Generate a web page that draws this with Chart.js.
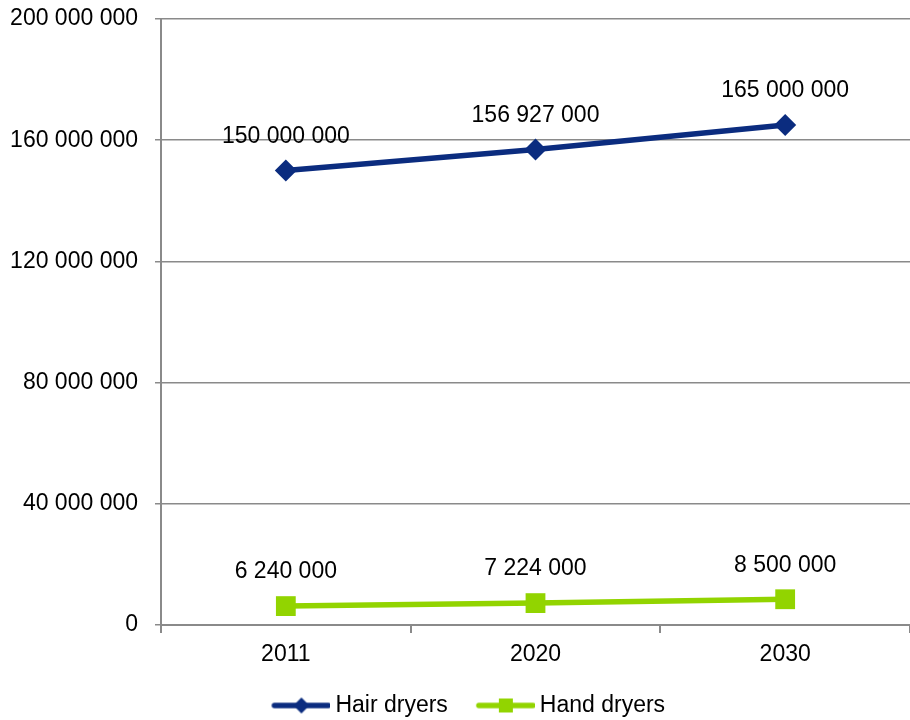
<!DOCTYPE html>
<html>
<head>
<meta charset="utf-8">
<script src="https://cdn.jsdelivr.net/npm/chart.js@4/dist/chart.umd.min.js"></script>
<style>
  html, body { margin: 0; padding: 0; background: #fff; }
  #wrap { width: 910px; height: 720px; }
</style>
</head>
<body>
<div id="wrap"><canvas id="chartCanvas" width="910" height="720"></canvas></div>
<script>
const years = ["2011", "2020", "2030"];
const hairDryers = [150000000, 156927000, 165000000];
const handDryers = [6240000, 7224000, 8500000];
const yTicks = [0, 40000000, 80000000, 120000000, 160000000, 200000000];

const navy = "#0B2C7F";
const green = "#92D400";
const gridGray = "#8A8A8A";
const fontFamily = "'Liberation Sans', Arial, sans-serif";
const fontSize = 23;

// group digits with spaces: 150000000 -> "150 000 000"
function spaced(n) {
  return String(n).replace(/\B(?=(\d{3})+(?!\d))/g, " ");
}

// legend swatch: short line with the series marker in the middle,
// blank space on the left keeps the items apart
function legendSwatch(color, shape) {
  const c = document.createElement("canvas");
  c.width = 92;
  c.height = 20;
  const ctx = c.getContext("2d");
  ctx.strokeStyle = color;
  ctx.lineWidth = 5.5;
  ctx.lineCap = "round";
  ctx.beginPath();
  ctx.moveTo(36, 10);
  ctx.lineTo(90, 10);
  ctx.stroke();
  ctx.fillStyle = color;
  ctx.beginPath();
  if (shape === "diamond") {
    ctx.moveTo(63, 2); ctx.lineTo(71, 10); ctx.lineTo(63, 18); ctx.lineTo(55, 10);
  } else {
    ctx.rect(56, 3, 14, 14);
  }
  ctx.closePath();
  ctx.fill();
  return c;
}

const valueLabels = {
  id: "valueLabels",
  afterDatasetsDraw(chart) {
    const ctx = chart.ctx;
    ctx.save();
    ctx.font = fontSize + "px " + fontFamily;
    ctx.fillStyle = "#000";
    ctx.textAlign = "center";
    ctx.textBaseline = "middle";
    chart.data.datasets.forEach((ds, i) => {
      chart.getDatasetMeta(i).data.forEach((pt, j) => {
        ctx.fillText(spaced(ds.data[j]), pt.x, pt.y - 34);
      });
    });
    ctx.restore();
  }
};

const swatches = [legendSwatch(navy, "diamond"), legendSwatch(green, "square")];

new Chart(document.getElementById("chartCanvas"), {
  type: "line",
  data: {
    labels: years,
    datasets: [
      {
        label: "Hair dryers",
        data: hairDryers,
        borderColor: navy,
        backgroundColor: navy,
        borderWidth: 5.5,
        pointStyle: "rectRot",
        pointRadius: 11,
        pointBorderWidth: 0,
        tension: 0
      },
      {
        label: "Hand dryers",
        data: handDryers,
        borderColor: green,
        backgroundColor: green,
        borderWidth: 5.5,
        pointStyle: "rect",
        pointRadius: 14,
        pointBorderWidth: 0,
        tension: 0
      }
    ]
  },
  options: {
    responsive: false,
    animation: false,
    layout: { autoPadding: false, padding: { top: 19, right: 0, bottom: -7, left: 0 } },
    plugins: {
      tooltip: { enabled: false },
      legend: {
        position: "bottom",
        labels: {
          usePointStyle: true,
          pointStyleWidth: 79,
          padding: 1.5,
          color: "#000",
          font: { size: fontSize, family: fontFamily },
          generateLabels(chart) {
            return chart.data.datasets.map((ds, i) => ({
              text: ds.label,
              pointStyle: swatches[i],
              fillStyle: ds.borderColor,
              strokeStyle: ds.borderColor,
              lineWidth: 0,
              hidden: false,
              datasetIndex: i
            }));
          }
        }
      }
    },
    scales: {
      x: {
        offset: true,
        grid: {
          offset: true,
          drawOnChartArea: false,
          color: gridGray,
          tickLength: 8,
          lineWidth: 2
        },
        border: { color: gridGray, width: 2 },
        ticks: {
          color: "#000",
          padding: 8,
          font: { size: fontSize, family: fontFamily }
        },
        afterFit(scale) {
          scale.height = 67.5;
          scale.paddingLeft = 0;
          scale.paddingRight = 0;
        }
      },
      y: {
        min: 0,
        max: 200000000,
        afterBuildTicks(scale) {
          scale.ticks = yTicks.map(v => ({ value: v }));
        },
        grid: {
          color: gridGray,
          lineWidth: 1.5,
          tickLength: 6
        },
        border: { color: gridGray, width: 2 },
        ticks: {
          color: "#000",
          padding: 17,
          font: { size: fontSize, family: fontFamily },
          callback: v => spaced(v)
        },
        afterFit(scale) {
          scale.width = 161;
          scale.paddingTop = 0;
          scale.paddingBottom = 0;
        }
      }
    }
  },
  plugins: [valueLabels]
});
</script>
</body>
</html>
